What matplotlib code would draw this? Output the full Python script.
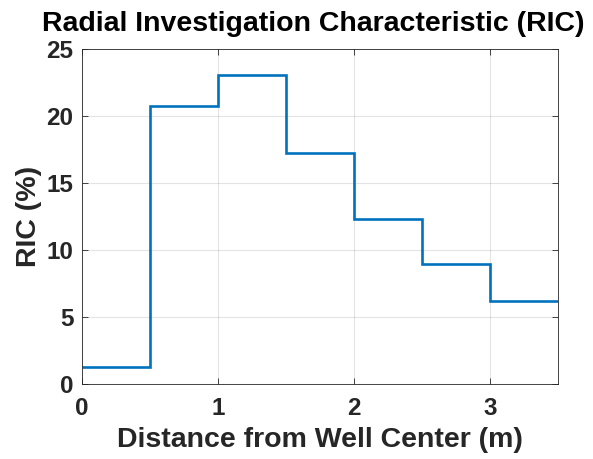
import matplotlib
matplotlib.use("Agg")
import matplotlib.pyplot as plt
import numpy as np

# Radial bins (m) and RIC per bin (%)
bin_edges = [0.0, 0.5, 1.0, 1.5, 2.0, 2.5, 3.0, 3.5]
ric_percent = [1.3, 20.75, 23.1, 17.25, 12.35, 9.0, 6.2]
x_ticks = [0, 1, 2, 3]
y_ticks = [0, 5, 10, 15, 20, 25]

plt.rcParams['font.family'] = ['Liberation Sans', 'DejaVu Sans']
plt.rcParams['font.weight'] = 'bold'

fig = plt.figure(figsize=(5.93, 4.59), dpi=100)
ax = fig.add_axes([0.138, 0.163, 0.803, 0.730])

ax.stairs(ric_percent, bin_edges, baseline=None, color='#0072BD', linewidth=1.9)

ax.set_xlim(0, 3.5)
ax.set_ylim(0, 25)
ax.set_xticks(x_ticks)
ax.set_yticks(y_ticks)
ax.grid(True, color='#262626', alpha=0.12, linewidth=0.8)
ax.set_axisbelow(True)

for s in ax.spines.values():
    s.set_color('#262626')
    s.set_linewidth(0.6)
ax.tick_params(direction='in', top=True, right=True, length=4, width=0.6,
               colors='#262626', labelsize=17.5)
ax.tick_params(axis='x', pad=9)
ax.tick_params(axis='y', pad=6)
for lbl in ax.get_xticklabels() + ax.get_yticklabels():
    lbl.set_fontweight('bold')

ax.set_title('Radial Investigation Characteristic (RIC)', fontsize=20.5,
             fontweight='bold', color='black', pad=13, x=0.487)
ax.set_xlabel('Distance from Well Center (m)', fontsize=20.5, fontweight='bold',
              color='#262626', labelpad=5)
ax.set_ylabel('RIC (%)', fontsize=20.5, fontweight='bold', color='#262626', labelpad=3)

fig.savefig('out.png', dpi=100, facecolor='white')
